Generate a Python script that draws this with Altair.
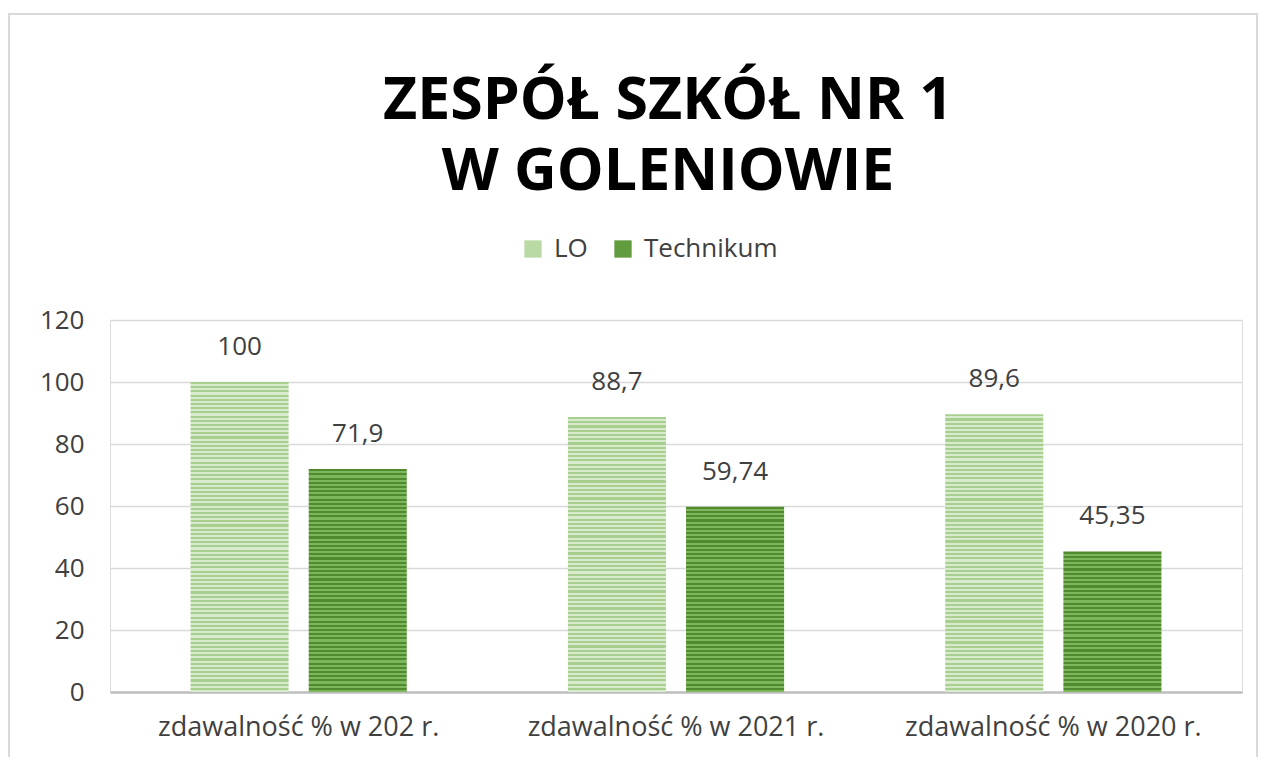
import altair as alt
import pandas as pd

categories = ["zdawalność % w 202 r.", "zdawalność % w 2021 r.", "zdawalność % w 2020 r."]
series = ["LO", "Technikum"]
lo_values = [100, 88.7, 89.6]
tech_values = [71.9, 59.74, 45.35]
lo_labels = ["100", "88,7", "89,6"]
tech_labels = ["71,9", "59,74", "45,35"]
y_ticks = [0, 20, 40, 60, 80, 100, 120]

rows = []
for i, c in enumerate(categories):
    rows.append({"cat": c, "series": "LO", "value": lo_values[i], "label": lo_labels[i]})
    rows.append({"cat": c, "series": "Technikum", "value": tech_values[i], "label": tech_labels[i]})
df = pd.DataFrame(rows)

FONT = "Open Sans"
PLOT_W, PLOT_H = 1132, 372
Y_MAX = 120

stripe_colors = {
    "LO": ("#a8cf90", "#d9ebcd"),
    "Technikum": ("#4f8a2f", "#7db65b"),
}
legend_colors = ["#b9d9a5", "#619c3f"]


def stripe_gradient(series_name, value, period=4.2):
    dark, light = stripe_colors[series_name]
    h = value / Y_MAX * PLOT_H
    n = max(1, round(h / period))
    stops = []
    for k in range(n):
        a = k / n
        m = (k + 0.5) / n
        b = (k + 1) / n
        stops += [
            alt.GradientStop(color=dark, offset=a),
            alt.GradientStop(color=dark, offset=m),
            alt.GradientStop(color=light, offset=m),
            alt.GradientStop(color=light, offset=b),
        ]
    return alt.LinearGradient(gradient="linear", stops=stops, x1=0, x2=0, y1=0, y2=1)


x_enc = alt.X(
    "cat:N",
    sort=categories,
    scale=alt.Scale(domain=categories, paddingInner=0.427, paddingOuter=0.2135),
    axis=alt.Axis(
        title=None,
        labelAngle=0,
        labelFontSize=27,
        labelFont=FONT,
        labelColor="#404040",
        labelPadding=22,
        labelLimit=0,
        domain=True,
        domainColor="#bfbfbf",
        domainWidth=2.5,
        ticks=False,
        grid=False,
    ),
)
xoff_enc = alt.XOffset(
    "series:N",
    sort=series,
    scale=alt.Scale(domain=series, paddingInner=0.17, paddingOuter=0),
)
y_enc = alt.Y(
    "value:Q",
    scale=alt.Scale(domain=[0, Y_MAX], nice=False),
    axis=alt.Axis(
        title=None,
        values=y_ticks,
        labelFontSize=26,
        labelFont=FONT,
        labelColor="#404040",
        labelPadding=26,
        domain=False,
        ticks=False,
        grid=True,
        gridColor="#d9d9d9",
        gridWidth=1.5,
    ),
)

base = alt.Chart(df)

legend_layer = base.mark_bar(opacity=0).encode(
    x=x_enc,
    xOffset=xoff_enc,
    y=y_enc,
    color=alt.Color(
        "series:N",
        sort=series,
        scale=alt.Scale(domain=series, range=legend_colors),
        legend=alt.Legend(
            title=None,
            orient="none",
            direction="horizontal",
            legendX=410,
            legendY=-84,
            symbolType="square",
            symbolSize=300,
            symbolOpacity=1,
            symbolStrokeWidth=0,
            labelFontSize=26,
            labelFont=FONT,
            labelColor="#404040",
            labelOffset=8,
            columnPadding=22,
            padding=0,
        ),
    ),
)

bar_layers = []
for i, c in enumerate(categories):
    for s, vals in (("LO", lo_values), ("Technikum", tech_values)):
        bar_layers.append(
            base.transform_filter((alt.datum.cat == c) & (alt.datum.series == s))
            .mark_bar(color=stripe_gradient(s, vals[i]))
            .encode(x=x_enc, xOffset=xoff_enc, y=y_enc)
        )

text_layer = base.mark_text(
    dy=-35, baseline="middle", fontSize=26, font=FONT, color="#404040"
).encode(x=x_enc, xOffset=xoff_enc, y=y_enc, text="label:N")

frame = base.mark_rect(fill=None, stroke="#d9d9d9", strokeWidth=2, clip=False).encode(
    x=alt.value(-101),
    x2=alt.value(1147),
    y=alt.value(-306),
    y2=alt.value(470),
)

chart = (
    alt.layer(frame, legend_layer, *bar_layers, text_layer)
    .properties(
        width=PLOT_W,
        height=PLOT_H,
        autosize=alt.AutoSizeParams(type="none"),
        padding={"left": 102, "top": 312, "right": 16, "bottom": 65},
        title=alt.TitleParams(
            text=["ZESPÓŁ SZKÓŁ NR 1", "W GOLENIOWIE"],
            font=FONT,
            fontSize=59,
            fontWeight="bold",
            color="#000000",
            lineHeight=71,
            anchor="middle",
            frame="group",
            baseline="top",
            dx=-8,
            offset=-189,
        ),
    )
    .configure_view(stroke=None)
    .configure(background="white")
)

chart.save("out.html", embed_options={"renderer": "svg", "actions": False})
